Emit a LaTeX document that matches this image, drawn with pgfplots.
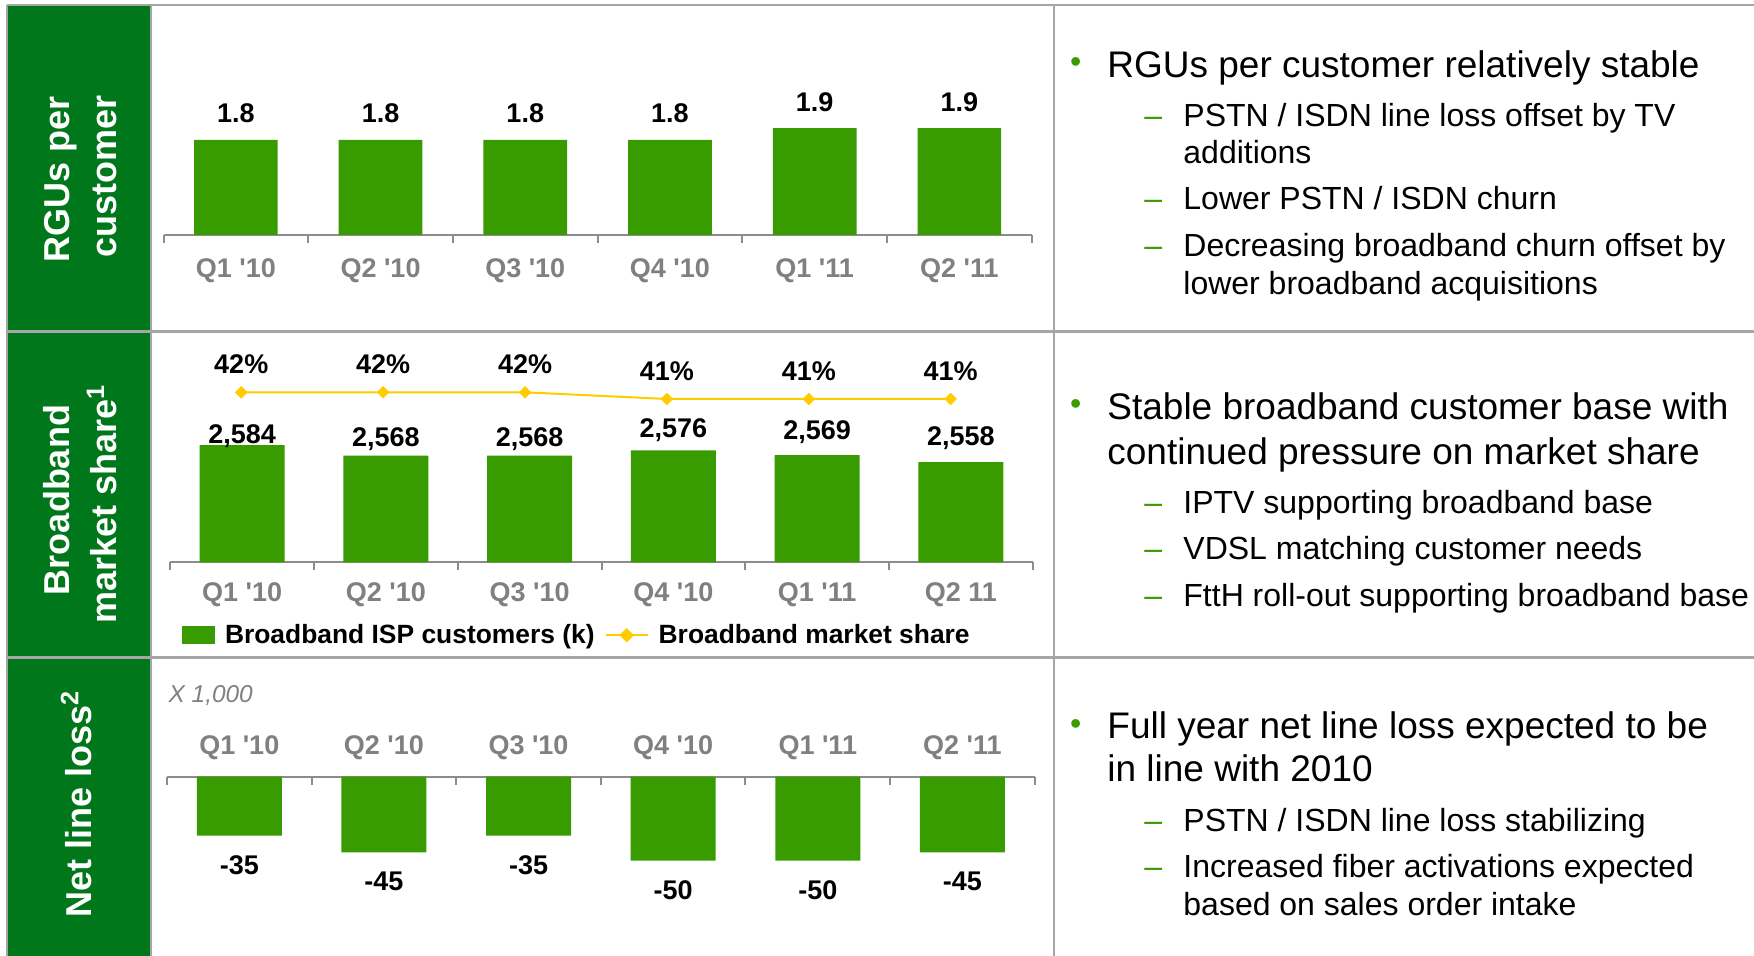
\documentclass[border=0pt]{standalone}
\usepackage{pgfplots}
\pgfplotsset{compat=1.18}
\usepackage{fontspec}
\setmainfont{Liberation Sans}
\definecolor{colgreen}{HTML}{00771A}
\definecolor{bargreen}{HTML}{389C00}
\definecolor{gridgray}{HTML}{A6A6A6}
\definecolor{axgray}{HTML}{8C8C8C}
\definecolor{lblgray}{HTML}{808080}
\definecolor{gold}{HTML}{FFCC00}
\definecolor{bulletgreen}{HTML}{3A9C00}
\newcommand{\q}{\textquotesingle}
\newcommand{\lblfont}{\fontsize{13.5}{16}\selectfont\bfseries}
\newcommand{\mainfont}{\fontsize{18.5}{22}\selectfont}
\newcommand{\subfont}{\fontsize{16}{19}\selectfont}
\newcommand{\sidefont}{\fontsize{18}{21}\selectfont\bfseries}
\newcommand{\bulletfont}{\fontsize{16}{17}\selectfont}

\pgfplotsset{
  qbase/.style={
    scale only axis, clip=false,
    xmin=-0.5, xmax=5.5,
    axis y line=none, ytick=\empty,
    xtick={0,...,5},
    minor xtick={-0.5,0.5,1.5,2.5,3.5,4.5,5.5},
    major tick length=0pt, minor tick length=4pt,
    tick style={axgray, line width=1pt},
    axis line style={axgray, line width=1pt},
    x axis line style={-},
    xticklabel style={font=\lblfont, text=lblgray},
    ybar, bar shift=0pt,
    every node near coord/.append style={font=\lblfont, text=black},
  },
  sqlegend/.style={legend image code/.code={\fill[bargreen] (0pt,-4.5pt) rectangle (16.5pt,4.5pt);}},
  linelegend/.style={legend image code/.code={%
    \draw[gold, line width=1pt] (0pt,0pt) -- (21pt,0pt);
    \fill[gold] (10.5pt,0pt) +(0pt,2.9pt) -- +(2.9pt,0pt) -- +(0pt,-2.9pt) -- +(-2.9pt,0pt) -- cycle;}},
}

\pgfplotstableread{
x y
0 1.8
1 1.8
2 1.8
3 1.8
4 1.9
5 1.9
}\rgus

\pgfplotstableread{
x y off
0 2584 1.0
1 2568 4.7
2 2568 4.7
3 2576 6.5
4 2569 7.7
5 2558 8.2
}\bbcust

\pgfplotstableread{
x y
0 42
1 42
2 42
3 41
4 41
5 41
}\bbshare

\pgfplotstableread{
x y
0 -35
1 -45
2 -35
3 -50
4 -50
5 -45
}\netloss

\begin{document}
\begin{tikzpicture}
\useasboundingbox (0pt,0pt) rectangle (877pt,-478pt);
\fill[white] (0pt,0pt) rectangle (877pt,-478pt);
\fill[colgreen] (4pt,-2.5pt) rectangle (75.5pt,-478pt);
\draw[gridgray, line width=1.25pt]
  (3.5pt,-2.5pt) -- (877pt,-2.5pt)
  (3.5pt,-165.75pt) -- (877pt,-165.75pt)
  (3.5pt,-328.75pt) -- (877pt,-328.75pt)
  (3.5pt,-2.5pt) -- (3.5pt,-478pt)
  (75.5pt,-2.5pt) -- (75.5pt,-478pt)
  (527pt,-2.5pt) -- (527pt,-478pt);

% side labels
\node[rotate=90, anchor=base, text=white, font=\sidefont] at (34.5pt,-89.5pt) {RGUs per};
\node[rotate=90, anchor=base, text=white, font=\sidefont] at (58.35pt,-88.25pt) {customer};
\node[rotate=90, anchor=base, text=white, font=\sidefont] at (34.5pt,-250pt) {Broadband};
\node[rotate=90, anchor=base, text=white, font=\sidefont] at (58.35pt,-252pt) {market share\textsuperscript{1}};
\node[rotate=90, anchor=base, text=white, font=\sidefont] at (45.5pt,-402pt) {Net line loss\textsuperscript{2}};

% Row 1: RGUs per customer
\begin{axis}[qbase, at={(81.75pt,-117.5pt)}, anchor=south west,
  width=434.1pt, height=59.375pt, ymin=1, ymax=2,
  axis x line*=bottom, tick align=outside, bar width=41.85pt,
  xticklabels={Q1 \q10, Q2 \q10, Q3 \q10, Q4 \q10, Q1 \q11, Q2 \q11},
  xticklabel style={anchor=base, yshift=-21.5pt},
  nodes near coords={\pgfmathprintnumber[fixed,precision=1,fixed zerofill,assume math mode=true]{\pgfplotspointmeta}},
  every node near coord/.append style={anchor=base, yshift=8.5pt}]
\addplot[fill=bargreen, draw=none] table[x=x,y=y] {\rgus};
\end{axis}

% Row 2: broadband customers + market share
\begin{axis}[qbase, at={(85.15pt,-281.15pt)}, anchor=south west,
  width=431.2pt, height=98.1pt, ymin=2405, ymax=2705,
  axis x line*=bottom, tick align=outside, bar width=42.5pt,
  xticklabels={Q1 \q10, Q2 \q10, Q3 \q10, Q4 \q10, Q1 \q11, Q2 11},
  xticklabel style={anchor=base, yshift=-19.8pt},
  legend columns=2, legend cell align=left,
  legend style={draw=none, fill=none, inner sep=0pt, outer sep=0pt,
    column sep=5pt, at={(0.01357,-0.3715)}, anchor=west,
    nodes={inner sep=0pt}, font=\fontsize{13.2}{15}\selectfont\bfseries}]
\addplot[fill=bargreen, draw=none, sqlegend,
  nodes near coords={\pgfmathprintnumber[fixed,precision=0,1000 sep={,},assume math mode=true]{\pgfplotspointmeta}},
  visualization depends on={\thisrow{off} \as \labeloff},
  every node near coord/.append style={anchor=base, yshift=\labeloff*1pt}]
  table[x=x,y=y] {\bbcust};
\addlegendentry{Broadband ISP customers (k)}
\addlegendimage{gold, line width=1pt, linelegend}
\addlegendentry{Broadband market share}
\end{axis}

\begin{axis}[scale only axis, clip=false, at={(85.15pt,-281.15pt)}, anchor=south west,
  width=431.2pt, height=98.1pt, xmin=-0.5, xmax=5.578, ymin=16.627, ymax=45.91,
  axis lines=none]
\addplot[gold, line width=1pt, mark=square*, mark size=2.05pt,
  mark options={solid, rotate=45, fill=gold, draw=gold, line width=0.3pt},
  nodes near coords={\pgfmathprintnumber[fixed,precision=0,assume math mode=true]{\pgfplotspointmeta}\%},
  every node near coord/.append style={anchor=base, yshift=9.2pt, font=\lblfont, text=black}]
  table[x=x,y=y] {\bbshare};
\end{axis}

% Row 3: net line loss
\node[anchor=base west, text=lblgray, font=\fontsize{12.2}{14}\selectfont\itshape] at (80.8pt,-351pt) {X 1,000};
\begin{axis}[qbase, at={(83.5pt,-388.35pt)}, anchor=north west,
  width=433.85pt, height=67.2pt, ymin=-80, ymax=0,
  axis x line*=top, tick align=inside, bar width=42.5pt,
  xticklabels={Q1 \q10, Q2 \q10, Q3 \q10, Q4 \q10, Q1 \q11, Q2 \q11},
  xticklabel style={anchor=base, yshift=11.35pt},
  nodes near coords={\pgfmathprintnumber[fixed,precision=0,assume math mode=true]{\pgfplotspointmeta}},
  every node near coord/.append style={anchor=base, yshift=-19.3pt}]
\addplot[fill=bargreen, draw=none] table[x=x,y=y] {\netloss};
\end{axis}

% Text panel
\begin{scope}[every node/.style={anchor=base west, inner sep=0pt}]
\node[text=bulletgreen, font=\bulletfont] at (534.8pt,-36.5pt) {•};
\node[font=\mainfont] at (553.5pt,-38.65pt) {RGUs per customer relatively stable};
\node[text=bulletgreen, font=\subfont] at (572pt,-63.35pt) {–};
\node[font=\subfont] at (591.5pt,-63.35pt) {PSTN / ISDN line loss offset by TV};
\node[font=\subfont] at (591.5pt,-82pt) {additions};
\node[text=bulletgreen, font=\subfont] at (572pt,-105pt) {–};
\node[font=\subfont] at (591.5pt,-105pt) {Lower PSTN / ISDN churn};
\node[text=bulletgreen, font=\subfont] at (572pt,-128.35pt) {–};
\node[font=\subfont] at (591.5pt,-128.35pt) {Decreasing broadband churn offset by};
\node[font=\subfont] at (591.5pt,-147.5pt) {lower broadband acquisitions};

\node[text=bulletgreen, font=\bulletfont] at (534.8pt,-207.4pt) {•};
\node[font=\mainfont] at (553.5pt,-209.65pt) {Stable broadband customer base with};
\node[font=\mainfont] at (553.5pt,-232.5pt) {continued pressure on market share};
\node[text=bulletgreen, font=\subfont] at (572pt,-256.65pt) {–};
\node[font=\subfont] at (591.5pt,-256.65pt) {IPTV supporting broadband base};
\node[text=bulletgreen, font=\subfont] at (572pt,-279.65pt) {–};
\node[font=\subfont] at (591.5pt,-279.65pt) {VDSL matching customer needs};
\node[text=bulletgreen, font=\subfont] at (572pt,-303pt) {–};
\node[font=\subfont] at (591.5pt,-303pt) {FttH roll-out supporting broadband base};

\node[text=bulletgreen, font=\bulletfont] at (534.8pt,-367pt) {•};
\node[font=\mainfont] at (553.5pt,-369.15pt) {Full year net line loss expected to be};
\node[font=\mainfont] at (553.5pt,-390.85pt) {in line with 2010};
\node[text=bulletgreen, font=\subfont] at (572pt,-415.85pt) {–};
\node[font=\subfont] at (591.5pt,-415.85pt) {PSTN / ISDN line loss stabilizing};
\node[text=bulletgreen, font=\subfont] at (572pt,-438.65pt) {–};
\node[font=\subfont] at (591.5pt,-438.65pt) {Increased fiber activations expected};
\node[font=\subfont] at (591.5pt,-457.5pt) {based on sales order intake};
\end{scope}
\end{tikzpicture}
\end{document}
